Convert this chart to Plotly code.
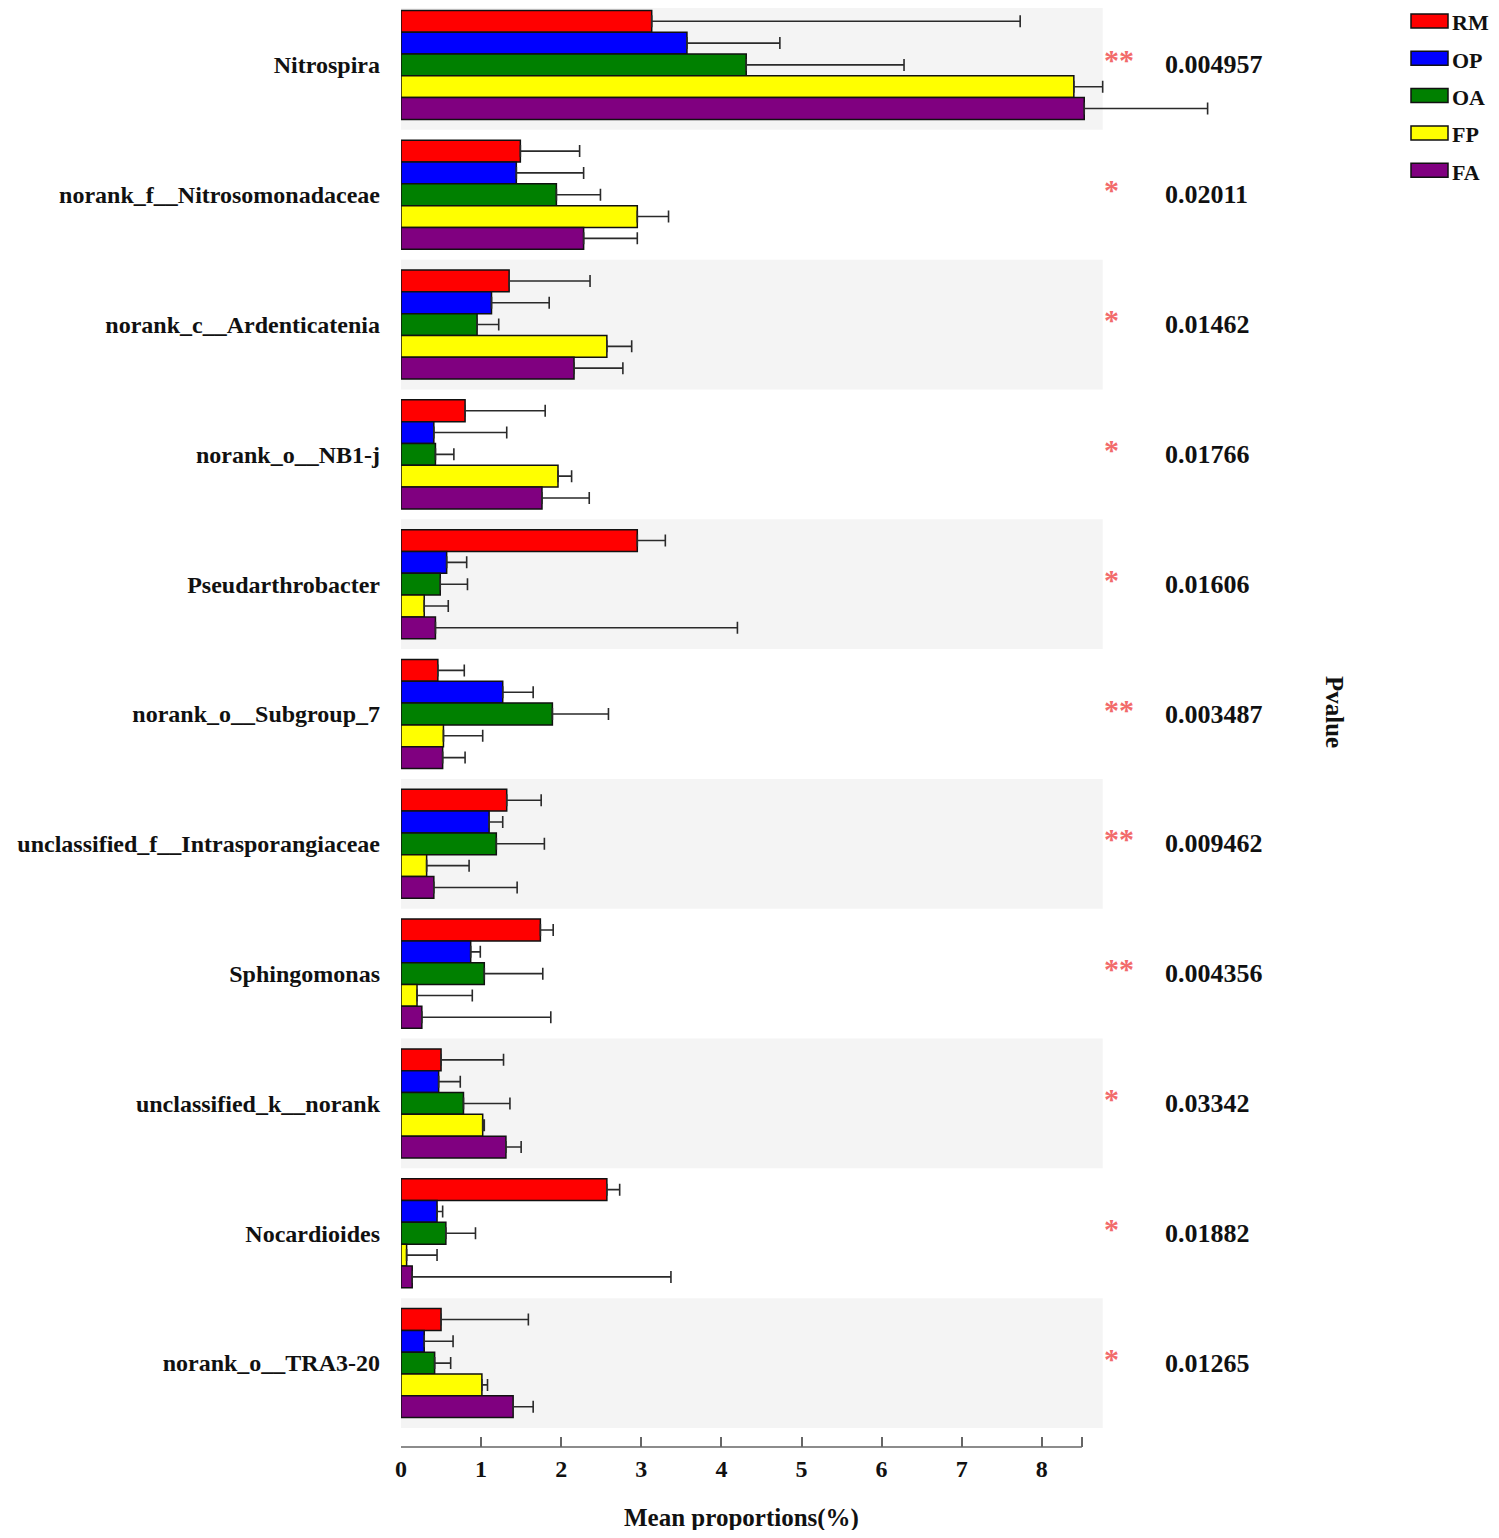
import plotly.graph_objects as go

taxa = ['Nitrospira', 'norank_f__Nitrosomonadaceae', 'norank_c__Ardenticatenia',
        'norank_o__NB1-j', 'Pseudarthrobacter', 'norank_o__Subgroup_7',
        'unclassified_f__Intrasporangiaceae', 'Sphingomonas',
        'unclassified_k__norank', 'Nocardioides', 'norank_o__TRA3-20']

groups = ['RM', 'OP', 'OA', 'FP', 'FA']
colors = ['#ff0000', '#0000ff', '#008000', '#ffff00', '#800080']

# mean proportions (%) and the upper end of each error bar
rm_mean = [3.13, 1.49, 1.35, 0.80, 2.95, 0.46, 1.32, 1.74, 0.50, 2.57, 0.50]
rm_top = [7.73, 2.23, 2.36, 1.80, 3.30, 0.79, 1.75, 1.90, 1.28, 2.73, 1.59]
op_mean = [3.57, 1.44, 1.13, 0.41, 0.57, 1.27, 1.10, 0.87, 0.47, 0.45, 0.29]
op_top = [4.73, 2.28, 1.85, 1.32, 0.82, 1.65, 1.27, 0.99, 0.74, 0.52, 0.65]
oa_mean = [4.31, 1.94, 0.95, 0.43, 0.49, 1.89, 1.19, 1.04, 0.78, 0.56, 0.42]
oa_top = [6.28, 2.49, 1.22, 0.66, 0.83, 2.59, 1.79, 1.77, 1.36, 0.93, 0.62]
fp_mean = [8.40, 2.95, 2.57, 1.96, 0.29, 0.53, 0.32, 0.20, 1.02, 0.07, 1.01]
fp_top = [8.76, 3.34, 2.88, 2.13, 0.59, 1.02, 0.85, 0.89, 1.04, 0.45, 1.08]
fa_mean = [8.53, 2.28, 2.16, 1.76, 0.43, 0.52, 0.41, 0.26, 1.31, 0.14, 1.40]
fa_top = [10.07, 2.95, 2.77, 2.35, 4.20, 0.80, 1.45, 1.87, 1.50, 3.37, 1.65]

pvalues = ['0.004957', '0.02011', '0.01462', '0.01766', '0.01606', '0.003487',
           '0.009462', '0.004356', '0.03342', '0.01882', '0.01265']
stars = ['**', '*', '*', '*', '*', '**', '**', '**', '*', '*', '*']

tick_vals = [0, 1, 2, 3, 4, 5, 6, 7, 8]

means = [rm_mean, op_mean, oa_mean, fp_mean, fa_mean]
tops = [rm_top, op_top, oa_top, fp_top, fa_top]

# the page puts the figure 8px in from the top-left corner; keep it inside the window
page_off = 8
W, H = 1499 - 2 * page_off, 1538 - 2 * page_off
plot_left = 401          # screen px of x = 0
plot_top = page_off      # screen px
plot_bottom = 1447       # screen px (axis line)
unit = 80.1              # pixels per 1 %
plot_h = plot_bottom - plot_top
band_px = 1428 / len(taxa)
band_end = 8.76
axis_end = 8.5
font = 'Liberation Serif'


def sx(px):
    return (px - plot_left) / unit


def sy(py):
    return (plot_bottom - py) / plot_h


def cat(py):
    return py / band_px - 0.5


fig = go.Figure()
for g, c, m, t in zip(groups, colors, means, tops):
    fig.add_trace(go.Bar(
        y=taxa, x=m, name=g, orientation='h',
        marker=dict(color=c, line=dict(color='#111111', width=1.5)),
        error_x=dict(type='data', symmetric=False,
                     array=[b - a for a, b in zip(m, t)],
                     arrayminus=[0] * len(m),
                     color='#2a2a2a', thickness=1.6, width=6),
        showlegend=False))

shapes = []
# alternating grey bands
for i in range(0, len(taxa), 2):
    shapes.append(dict(type='rect', xref='x', yref='y', x0=0, x1=band_end,
                       y0=i - 0.5, y1=i + 0.5, fillcolor='#f4f4f4',
                       line=dict(width=0), layer='below'))
# x axis line, only as long as the scale
shapes.append(dict(type='line', xref='x', yref='paper', x0=0, x1=axis_end,
                   y0=0, y1=0, line=dict(color='#666666', width=1.5)))

annotations = []
for i, (p, s) in enumerate(zip(pvalues, stars)):
    annotations.append(dict(x=sx(1163), y=i, xref='x', yref='y',
                            text='<b>%s</b>' % p, showarrow=False,
                            xanchor='left', yanchor='middle',
                            font=dict(family=font, size=26, color='#111111')))
    annotations.append(dict(x=sx(1102), y=i, xref='x', yref='y',
                            text='<b>%s</b>' % s, showarrow=False,
                            xanchor='left', yanchor='middle', yshift=5,
                            font=dict(family=font, size=30, color='#f26b6b')))

annotations.append(dict(x=axis_end / 2, y=sy(1518), xref='x', yref='paper',
                        text='<b>Mean proportions(%)</b>', showarrow=False,
                        xanchor='center', yanchor='middle',
                        font=dict(family=font, size=25, color='#111111')))
annotations.append(dict(x=sx(1335), y=sy(712), xref='x', yref='paper',
                        text='<b>Pvalue</b>', textangle=90, showarrow=False,
                        xanchor='center', yanchor='middle',
                        font=dict(family=font, size=25, color='#111111')))

# legend drawn by hand: long rectangular swatches
for k, (g, c) in enumerate(zip(groups, colors)):
    cy = 21 + k * 37.3
    shapes.append(dict(type='rect', xref='x', yref='paper',
                       x0=sx(1411), x1=sx(1448), y0=sy(cy + 7), y1=sy(cy - 7),
                       fillcolor=c, line=dict(color='#111111', width=1.5)))
    annotations.append(dict(x=sx(1450), y=sy(cy + 2), xref='x', yref='paper',
                            text='<b>%s</b>' % g, showarrow=False,
                            xanchor='left', yanchor='middle',
                            font=dict(family=font, size=22, color='#111111')))

fig.update_layout(
    width=W, height=H,
    margin=dict(l=plot_left - page_off, r=0, t=plot_top - page_off,
                b=H + page_off - plot_bottom),
    barmode='group', bargap=0.16, bargroupgap=0,
    plot_bgcolor='white', paper_bgcolor='white',
    font=dict(family=font, color='#111111'),
    shapes=shapes, annotations=annotations,
)
fig.update_xaxes(range=[0, sx(W + page_off)], tickvals=tick_vals + [axis_end],
                 ticktext=['<b>%d</b>' % v for v in tick_vals] + [''],
                 ticks='inside', ticklen=10, tickwidth=1.5, tickcolor='#666666',
                 ticklabelstandoff=5,
                 showgrid=False, zeroline=False, showline=False,
                 tickfont=dict(family=font, size=24, color='#111111'))
fig.update_yaxes(categoryorder='array', categoryarray=taxa,
                 range=[cat(plot_bottom), cat(plot_top)],
                 showgrid=False, zeroline=False, showline=False, ticks='',
                 ticklabelstandoff=20,
                 tickvals=taxa, ticktext=['<b>%s</b>' % t for t in taxa],
                 tickfont=dict(family=font, size=24, color='#111111'))

fig.write_html('out.html')
